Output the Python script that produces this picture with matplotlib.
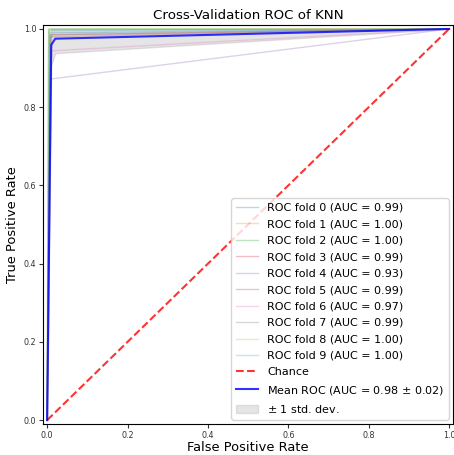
import numpy as np
import matplotlib
matplotlib.use("Agg")
import matplotlib.pyplot as plt

# Per-fold ROC operating points (KNN gives a single threshold point per fold)
fold_fpr = [
    [0.0, 0.008, 1.0],
    [0.0, 0.006, 1.0],
    [0.0, 0.004, 1.0],
    [0.0, 0.011, 1.0],
    [0.0, 0.009, 1.0],
    [0.0, 0.008, 1.0],
    [0.0, 0.011, 1.0],
    [0.0, 0.007, 1.0],
    [0.0, 0.003, 1.0],
    [0.0, 0.005, 1.0],
]
fold_tpr = [
    [0.0, 0.990, 1.0],
    [0.0, 0.998, 1.0],
    [0.0, 1.000, 1.0],
    [0.0, 0.985, 1.0],
    [0.0, 0.872, 1.0],
    [0.0, 0.980, 1.0],
    [0.0, 0.944, 1.0],
    [0.0, 0.985, 1.0],
    [0.0, 0.999, 1.0],
    [0.0, 0.995, 1.0],
]
fold_auc = [0.99, 1.00, 1.00, 0.99, 0.93, 0.99, 0.97, 0.99, 1.00, 1.00]
mean_auc_label = 0.98
std_auc_label = 0.02

fig = plt.figure(figsize=(4.54, 4.55), dpi=100)
ax = fig.add_axes([0.095, 0.068, 0.903, 0.877])

mean_fpr = np.linspace(0, 1, 100)
tprs = []
for i, (fpr, tpr) in enumerate(zip(fold_fpr, fold_tpr)):
    ax.plot(fpr, tpr, lw=1, alpha=0.3,
            label=f"ROC fold {i} (AUC = {fold_auc[i]:.2f})")
    interp_tpr = np.interp(mean_fpr, fpr, tpr)
    interp_tpr[0] = 0.0
    tprs.append(interp_tpr)

ax.plot([0, 1], [0, 1], linestyle="--", lw=1.5, color="r", alpha=0.8,
        label="Chance")

mean_tpr = np.mean(tprs, axis=0)
mean_tpr[-1] = 1.0
ax.plot(mean_fpr, mean_tpr, color="b", lw=1.5, alpha=0.8,
        label=f"Mean ROC (AUC = {mean_auc_label:.2f} $\\pm$ {std_auc_label:.2f})")

std_tpr = np.std(tprs, axis=0)
tprs_upper = np.minimum(mean_tpr + std_tpr, 1)
tprs_lower = np.maximum(mean_tpr - std_tpr, 0)
ax.fill_between(mean_fpr, tprs_lower, tprs_upper, color="grey", alpha=0.2,
                label=r"$\pm$ 1 std. dev.")

ax.set_xlim(-0.01, 1.01)
ax.set_ylim(-0.01, 1.01)
ax.tick_params(labelsize=5.8, length=3, width=0.8, pad=2, colors="#333333",
               labelcolor="#333333")
ax.set_xlabel("False Positive Rate", fontsize=9.4, labelpad=1)
ax.set_ylabel("True Positive Rate", fontsize=9.4, labelpad=3)
ax.set_title("Cross-Validation ROC of KNN", fontsize=9.6, pad=4)
ax.legend(loc="lower right", fontsize=8.0, labelspacing=0.58,
          borderaxespad=0.4)

fig.savefig("out.png", dpi=100)
